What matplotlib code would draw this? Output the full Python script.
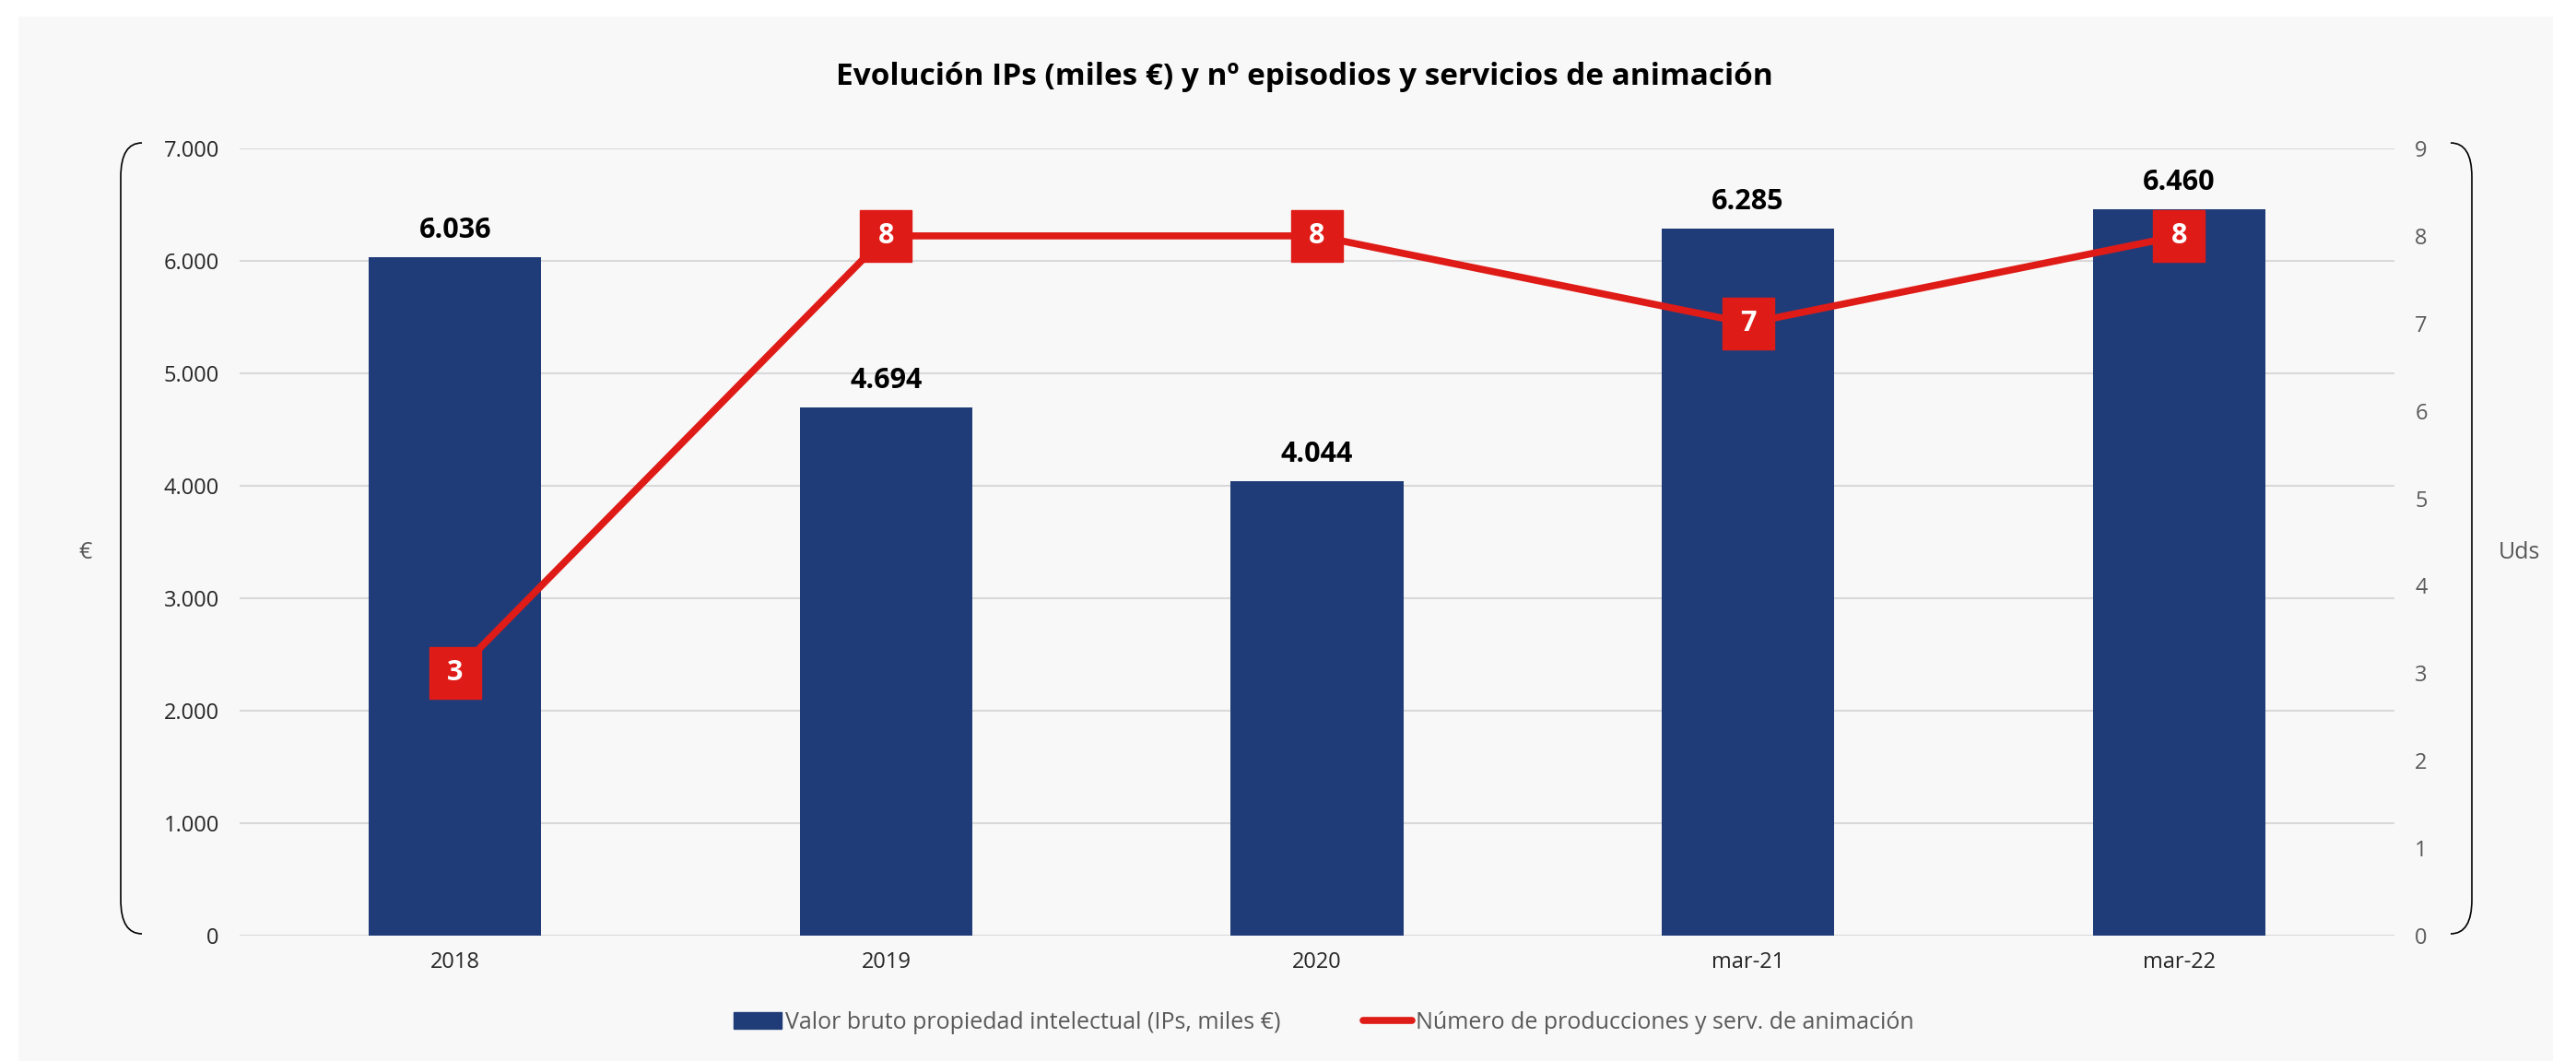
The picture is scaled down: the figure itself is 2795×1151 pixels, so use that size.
import matplotlib.pyplot as plt
from matplotlib.patches import Rectangle, PathPatch
from matplotlib.path import Path
from matplotlib.ticker import MultipleLocator, FuncFormatter
from matplotlib.lines import Line2D

periodos = ['2018', '2019', '2020', 'mar-21', 'mar-22']
valor_ips = [6036, 4694, 4044, 6285, 6460]
producciones = [3, 8, 8, 7, 8]

azul = '#203C78'
rojo = '#DF1B17'
gris = '#595959'
W, H = 2795, 1151


def fx(px):
    return px / W


def fy(py):
    return 1 - py / H


def miles(v):
    return f'{int(v):,}'.replace(',', '.')


plt.rcParams['font.family'] = ['Open Sans', 'DejaVu Sans']
fig = plt.figure(figsize=(W / 100, H / 100), dpi=100)
fig.patches.append(Rectangle((fx(20), 0), fx(2750), fy(18), transform=fig.transFigure,
                             facecolor='#F8F8F8', edgecolor='none', zorder=-10))

ax = fig.add_axes([fx(260), fy(1015), fx(2338), 854 / H])
ax.set_facecolor('none')
x = list(range(len(periodos)))
ax.bar(x, valor_ips, width=0.4, color=azul, zorder=2)
for i, v in enumerate(valor_ips):
    ax.annotate(miles(v), (i, v), xytext=(0, 10), textcoords='offset points',
                ha='center', va='bottom', fontsize=22, fontweight='bold', color='black')
ax.set_xlim(-0.5, 4.5)
ax.set_ylim(0, 7000)
ax.set_xticks(x)
ax.set_xticklabels(periodos)
ax.yaxis.set_major_locator(MultipleLocator(1000))
ax.yaxis.set_major_formatter(FuncFormatter(lambda v, p: miles(v)))
ax.grid(axis='y', color='#D9D9D9', lw=1.5)
ax.set_axisbelow(True)
for s in ax.spines.values():
    s.set_visible(False)
ax.tick_params(axis='y', length=0, labelsize=17, pad=16, labelcolor='#262626')
ax.tick_params(axis='x', length=0, labelsize=17, pad=12, labelcolor='#262626')

ax2 = ax.twinx()
ax2.set_ylim(0, 9)
ax2.yaxis.set_major_locator(MultipleLocator(1))
for s in ax2.spines.values():
    s.set_visible(False)
ax2.tick_params(axis='y', length=0, labelsize=17, pad=16, labelcolor=gris)
ax2.plot(x, producciones, color=rojo, lw=5.5, marker='s', markersize=40,
         solid_capstyle='round', zorder=3)
for i, v in enumerate(producciones):
    ax2.text(i, v, str(v), ha='center', va='center', fontsize=22,
             fontweight='bold', color='white', zorder=4)

# curly side brackets
def bracket(x0, y0, y1, dx, dy):
    pts = [(x0 + dx, y0), (x0, y0), (x0, y0 + dy), (x0, y1 - dy), (x0, y1), (x0 + dx, y1)]
    codes = [Path.MOVETO, Path.CURVE3, Path.CURVE3, Path.LINETO, Path.CURVE3, Path.CURVE3]
    p = Path([(fx(a), fy(b)) for a, b in pts], codes)
    fig.patches.append(PathPatch(p, transform=fig.transFigure, fill=False,
                                 edgecolor='black', lw=1.2))


bracket(131, 155, 1013, 23, 37)
bracket(2682, 155, 1013, -23, 37)

fig.text(fx(93), fy(600), '€', fontsize=18, color=gris, ha='center', va='center')
fig.text(fx(2733), fy(600), 'Uds', fontsize=18, color=gris, ha='center', va='center')
fig.text(fx(1415), fy(84), 'Evolución IPs (miles €) y nº episodios y servicios de animación',
         fontsize=24, fontweight='bold', ha='center', va='center')

handles = [Rectangle((0, 0), 1, 1, color=azul),
           Line2D([0], [0], color=rojo, lw=5.5, solid_capstyle='round')]
fig.legend(handles, ['Valor bruto propiedad intelectual (IPs, miles €)',
                     'Número de producciones y serv. de animación'],
           loc='center', bbox_to_anchor=(fx(1436), fy(1109)), ncol=2, frameon=False,
           fontsize=18, labelcolor=gris, handlelength=2.1, handletextpad=0.15,
           columnspacing=3.6)

fig.savefig('out.png', dpi=100, facecolor='white')
